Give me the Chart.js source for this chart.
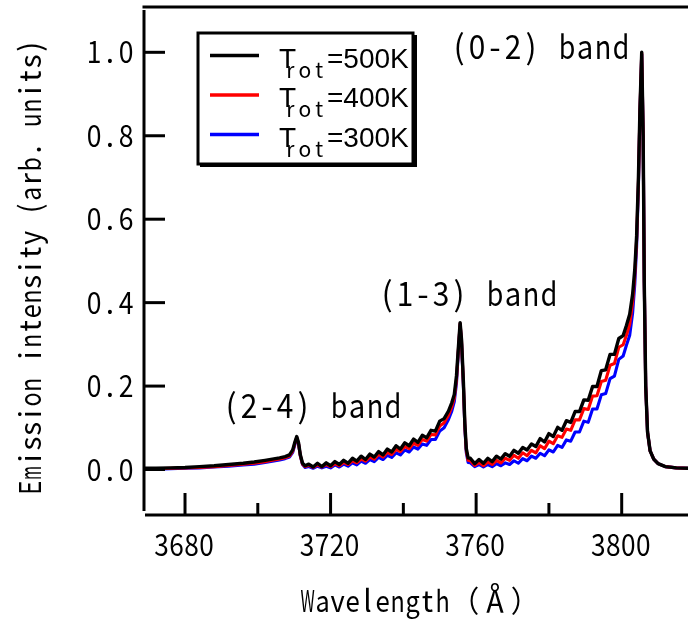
<!DOCTYPE html>
<html><head><meta charset="utf-8">
<script src="https://cdn.jsdelivr.net/npm/chart.js@4.4.1/dist/chart.umd.min.js"></script>
<style>html,body{margin:0;padding:0;background:#fff}#wrap{width:688px;height:621px;position:relative}</style>
</head><body><div id="wrap"><canvas id="c" width="688" height="621"></canvas></div>
<script>
// ---------- data ----------
const wavelength = [
 3668,3672,3676,3680,3684,3688,3692,3696,3699,3702,3704,3706,3707.5,3708.7,
 3709.6,3710.2,3710.7,3711.2,3711.7,3712.3,3713.0,
 3714.0,3715.2,3716.4,3717.6,3718.8,3720.0,3721.2,3722.4,3723.6,3724.8,3726.0,3727.2,3728.4,3729.6,3730.8,3732.0,
 3733.2,3734.4,3735.6,3736.8,3738.0,3739.2,3740.4,3741.6,3742.8,3744.0,3745.2,3746.4,3747.6,3748.8,3750.0,3751.2,
 3752.4,3753.3,3754.0,3754.6,3755.1,3755.6,3756.0,3756.5,3756.9,3757.3,3757.8,
 3758.4,3759.6,3760.8,3762.0,3763.2,3764.4,3765.6,3766.8,3768.0,3769.2,3770.4,3771.6,3772.8,3774.0,3775.2,3776.4,
 3777.6,3778.8,3780.0,3781.2,3782.4,3783.6,3784.8,3786.0,3787.2,3788.4,3789.6,3790.8,3792.0,3793.2,3794.4,3795.6,
 3796.8,3798.0,3799.2,3800.4,
 3801.3,3802.2,3803.0,3803.6,3804.1,3804.6,3805.0,3805.5,3805.9,3806.2,3806.6,3807.1,3807.8,3808.8,3810.0,3812.0,3815.0,3819.0
];
const trot500 = [
 0.003,0.003,0.004,0.005,0.007,0.009,0.012,0.015,0.018,0.022,0.025,0.028,0.031,0.035,
 0.047,0.066,0.079,0.064,0.035,0.015,0.009,
 0.013,0.006,0.015,0.007,0.016,0.009,0.019,0.012,0.022,0.015,0.027,0.020,0.032,0.024,0.037,0.030,
 0.043,0.035,0.049,0.042,0.057,0.049,0.064,0.057,0.073,0.065,0.082,0.076,0.094,0.092,0.116,0.122,
 0.140,0.160,0.180,0.225,0.290,0.352,0.310,0.210,0.110,0.050,0.028,
 0.027,0.014,0.024,0.015,0.027,0.019,0.032,0.025,0.038,0.032,0.046,0.039,0.053,0.047,0.061,0.055,
 0.074,0.066,0.086,0.079,0.101,0.094,0.117,0.113,0.139,0.139,0.167,0.166,0.199,0.199,0.237,0.239,
 0.276,0.276,0.314,0.321,
 0.345,0.372,0.420,0.480,0.560,0.700,0.860,1.000,0.800,0.450,0.200,0.090,0.045,0.025,0.014,0.007,0.004,0.003
];
const trot400 = [
 0.002,0.002,0.003,0.004,0.005,0.007,0.010,0.013,0.015,0.019,0.022,0.025,0.028,0.032,
 0.044,0.063,0.077,0.062,0.033,0.013,0.007,
 0.010,0.005,0.011,0.006,0.012,0.007,0.014,0.009,0.017,0.012,0.021,0.016,0.025,0.020,0.030,0.025,
 0.036,0.030,0.041,0.036,0.048,0.043,0.055,0.050,0.063,0.058,0.072,0.068,0.084,0.083,0.104,0.112,
 0.130,0.150,0.172,0.215,0.285,0.350,0.305,0.205,0.105,0.045,0.022,
 0.021,0.010,0.017,0.009,0.018,0.012,0.022,0.016,0.027,0.022,0.034,0.027,0.040,0.033,0.046,0.040,
 0.057,0.050,0.068,0.062,0.081,0.077,0.097,0.094,0.119,0.119,0.146,0.144,0.176,0.177,0.211,0.214,
 0.250,0.254,0.293,0.299,
 0.322,0.348,0.400,0.465,0.550,0.690,0.855,0.998,0.800,0.450,0.200,0.090,0.045,0.025,0.014,0.007,0.004,0.003
];
const trot300 = [
 0.001,0.001,0.002,0.003,0.004,0.006,0.008,0.011,0.013,0.017,0.020,0.023,0.026,0.030,
 0.041,0.060,0.076,0.061,0.032,0.012,0.005,
 0.007,0.003,0.008,0.004,0.008,0.004,0.011,0.006,0.013,0.008,0.016,0.011,0.020,0.015,0.024,0.019,
 0.029,0.024,0.034,0.029,0.040,0.035,0.047,0.042,0.054,0.049,0.061,0.058,0.072,0.072,0.092,0.100,
 0.120,0.140,0.163,0.207,0.280,0.348,0.300,0.200,0.100,0.040,0.017,
 0.016,0.007,0.012,0.006,0.012,0.007,0.014,0.009,0.016,0.012,0.021,0.015,0.026,0.021,0.032,0.027,
 0.039,0.033,0.047,0.042,0.058,0.053,0.071,0.068,0.090,0.090,0.116,0.113,0.145,0.145,0.179,0.182,
 0.218,0.224,0.264,0.272,
 0.298,0.322,0.375,0.445,0.535,0.680,0.850,0.995,0.800,0.450,0.200,0.090,0.045,0.025,0.014,0.007,0.004,0.003
];
const seriesTemps = ['=500K', '=400K', '=300K'];
const seriesColors = ['#000000', '#ff0000', '#0000ff'];
const xMajorTicks = [3680, 3720, 3760, 3800];
const xMinorTicks = [3700, 3740, 3780];
const yTicks = [0.0, 0.2, 0.4, 0.6, 0.8, 1.0];
const yTickLabels = ['0.0', '0.2', '0.4', '0.6', '0.8', '1.0'];
const bandLabels = ['(2-4) band', '(1-3) band', '(0-2) band'];
const xTitle = 'Wavelength\uFF08\u212B\uFF09';
const yTitle = 'Emission intensity (arb. units)';

// ---------- helpers ----------
const MONO_FAMILY = '"Noto Sans CJK JP", "DejaVu Sans", sans-serif';
function isFull(ch) { return ch.codePointAt(0) > 0x2000; }
function monoWidth(str, cell) { let w = 0; for (const ch of str) w += isFull(ch) ? cell * 2 : cell; return w; }
function monoText(ctx, str, x, y, size, cell, fill) {
  ctx.font = size + 'px ' + MONO_FAMILY;
  ctx.textBaseline = 'alphabetic';
  ctx.textAlign = 'center';
  ctx.fillStyle = '#000';
  let cx = x;
  for (const ch of str) {
    const w = isFull(ch) ? cell * 2 : cell;
    if (ch !== ' ') {
      const m = ctx.measureText(ch).width;
      const sx = Math.min(1, (w * (fill || 0.9)) / m);
      ctx.save(); ctx.translate(cx + w / 2, y); ctx.scale(sx, 1); ctx.fillText(ch, 0, 0); ctx.restore();
    }
    cx += w;
  }
}

const framePlugin = {
  id: 'frame',
  afterDraw(chart) {
    const ctx = chart.ctx;
    const xs = chart.scales.x, ys = chart.scales.y;
    const ca = chart.chartArea;
    ctx.save();
    ctx.strokeStyle = '#000';
    ctx.lineWidth = 3;
    ctx.lineCap = 'butt';
    // top border
    ctx.beginPath(); ctx.moveTo(ca.left - 1.5, ca.top); ctx.lineTo(ca.right, ca.top); ctx.stroke();
    // left axis
    ctx.beginPath(); ctx.moveTo(ca.left, ca.top + 3); ctx.lineTo(ca.left, ca.bottom - 4); ctx.stroke();
    // bottom axis
    ctx.beginPath(); ctx.moveTo(ca.left + 1, ca.bottom); ctx.lineTo(ca.right, ca.bottom); ctx.stroke();
    // y ticks + labels
    yTicks.forEach((v, i) => {
      const py = ys.getPixelForValue(v);
      ctx.beginPath(); ctx.moveTo(ca.left, py); ctx.lineTo(ca.left + 21, py); ctx.stroke();
      const lab = yTickLabels[i];
      const w = monoWidth(lab, 16);
      monoText(ctx, lab, 134 - w, py + 11, 30, 16, 0.92);
    });
    // x ticks + labels
    xMajorTicks.forEach(v => {
      const px = xs.getPixelForValue(v);
      ctx.beginPath(); ctx.moveTo(px, ca.bottom); ctx.lineTo(px, ca.bottom - 22); ctx.stroke();
      const lab = String(v);
      const w = monoWidth(lab, 15);
      monoText(ctx, lab, px - 1 - w / 2, 556, 30, 15, 0.97);
    });
    xMinorTicks.forEach(v => {
      const px = xs.getPixelForValue(v);
      ctx.beginPath(); ctx.moveTo(px, ca.bottom); ctx.lineTo(px, ca.bottom - 12); ctx.stroke();
    });
    // x title
    const xtw = monoWidth(xTitle, 15);
    monoText(ctx, xTitle, (ca.left + ca.right) / 2 - xtw / 2 + 4, 612, 30, 15, 0.95);
    // y title
    ctx.save();
    ctx.translate(41, 495);
    ctx.rotate(-Math.PI / 2);
    monoText(ctx, yTitle, 0, 0, 30, 14.7, 0.95);
    ctx.restore();
    // band annotations
    monoText(ctx, bandLabels[0], 222, 418, 33, 18, 0.92);
    monoText(ctx, bandLabels[1], 378, 306, 33, 18, 0.92);
    monoText(ctx, bandLabels[2], 450, 59, 33, 18, 0.92);
    // legend
    ctx.fillStyle = '#000';
    ctx.fillRect(200, 35, 217, 132); // shadow
    ctx.fillStyle = '#fff';
    ctx.fillRect(198, 33, 216, 131);
    ctx.lineWidth = 3;
    ctx.strokeStyle = '#000';
    ctx.strokeRect(198, 33, 215, 131);
    const rowsY = [55.5, 95, 134.5];
    seriesTemps.forEach((t, i) => {
      const y = rowsY[i];
      ctx.strokeStyle = seriesColors[i];
      ctx.lineWidth = 3.5;
      ctx.beginPath(); ctx.moveTo(210, y); ctx.lineTo(259, y); ctx.stroke();
      ctx.fillStyle = '#000';
      ctx.textAlign = 'left';
      ctx.textBaseline = 'alphabetic';
      ctx.font = '28px "Liberation Sans", Arial, sans-serif';
      ctx.fillText('T', 279, y + 12);
      monoText(ctx, 'rot', 283, y + 22, 21, 14.5, 0.95);
      ctx.font = '28px "Liberation Sans", Arial, sans-serif';
      ctx.textAlign = 'left';
      ctx.fillText(t, 327, y + 12);
    });
    ctx.restore();
  }
};

const mk = (arr) => wavelength.map((x, i) => ({ x: x, y: arr[i] }));
const datasets = [trot500, trot400, trot300].map((arr, i) => ({
  label: 'T_rot' + seriesTemps[i],
  data: mk(arr),
  borderColor: seriesColors[i],
  backgroundColor: seriesColors[i],
  borderWidth: i === 0 ? 3.4 : 3.1,
  pointRadius: 0,
  fill: false,
  tension: 0,
  borderJoinStyle: 'round'
}));

new Chart(document.getElementById('c'), {
  type: 'line',
  data: { datasets },
  options: {
    responsive: false,
    animation: false,
    devicePixelRatio: 1,
    layout: { padding: { top: 7, left: 0, right: 0, bottom: 0 } },
    plugins: { legend: { display: false }, tooltip: { enabled: false } },
    scales: {
      x: {
        type: 'linear', position: 'bottom', min: 3668.73, max: 3818.22,
        grid: { display: false, drawTicks: false }, border: { display: false },
        ticks: { display: false },
        afterFit: s => { s.height = 106; }
      },
      y: {
        type: 'linear', position: 'left', min: -0.109, max: 1.1086,
        grid: { display: false, drawTicks: false }, border: { display: false },
        ticks: { display: false },
        afterFit: s => { s.width = 144; }
      }
    }
  },
  plugins: [framePlugin]
});
</script>
</body></html>
